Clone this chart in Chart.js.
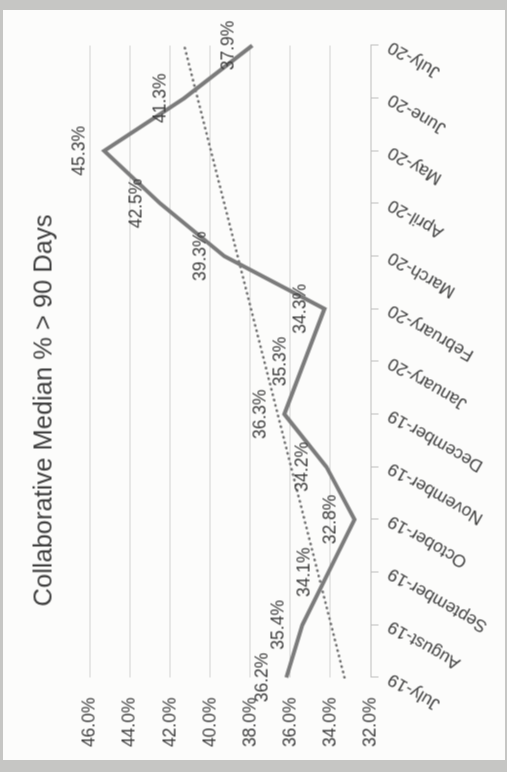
<!DOCTYPE html>
<html>
<head>
<meta charset="utf-8">
<script src="https://cdn.jsdelivr.net/npm/chart.js@4/dist/chart.umd.min.js"></script>
<style>
    html, body { margin: 0; padding: 0; width: 507px; height: 772px; overflow: hidden; background: #c6c6c4; }
    #page { position: absolute; left: 3px; top: 10px; width: 502px; height: 750px; background: #fcfcfb; }
    #turn { position: absolute; left: -128.5px; top: 146.5px; width: 765px; height: 502px; transform: rotate(-90deg); transform-origin: 50% 50%; }
</style>
</head>
<body>
<div id="page"></div>
<div id="turn"><canvas id="testchart" width="765" height="502"></canvas></div>
<script>
const months = ['July-19', 'August-19', 'September-19', 'October-19', 'November-19', 'December-19',
    'January-20', 'February-20', 'March-20', 'April-20', 'May-20', 'June-20', 'July-20'];
const median_array = [36.2, 35.4, 34.1, 32.8, 34.2, 36.3, 35.3, 34.3, 39.3, 42.5, 45.3, 41.3, 37.9];
// dotted trend line, read at its two ends
const trend_array = [33.3, null, null, null, null, null, null, null, null, null, null, null, 41.3];
const yMin = 32, yMax = 46, yStep = 2;

const fontName = "'Liberation Sans', Arial, sans-serif";

// draws the % value above every point of the first dataset
const valueLabels = {
    id: 'valueLabels',
    afterDatasetsDraw(chart) {
        const ctx = chart.ctx;
        const meta = chart.getDatasetMeta(0);
        ctx.save();
        ctx.font = '17.5px ' + fontName;
        ctx.fillStyle = '#3f3f3f';
        ctx.textAlign = 'center';
        ctx.textBaseline = 'middle';
        meta.data.forEach(function(pt, i) {
            ctx.fillText(median_array[i].toFixed(1) + '%', pt.x, pt.y - 24);
        });
        ctx.restore();
    }
};

function generateMedianChart()
{
    let select = document.getElementById('testchart');
    currentchart = new Chart(select, {
    type: 'line',
    data: {
        labels: months,
        datasets: [{
            label: 'Collaborative Median % > 90 Days',
            data: median_array,
            borderColor: '#7b7b7b',
            borderWidth: 4,
            pointRadius: 0,
            fill: false
        },
        {
            label: 'Trend',
            data: trend_array,
            borderColor: '#6f6f6f',
            borderWidth: 2.5,
            borderDash: [0.5, 5],
            borderCapStyle: 'round',
            spanGaps: true,
            pointRadius: 0,
            fill: false
        }]
    },
    options: {
        responsive: false,
        animation: false,
        events: [],
        layout: { padding: { left: 5, right: 30, top: 0, bottom: 0 } },
        plugins: {
            legend: { display: false },
            tooltip: { enabled: false },
            title: {
                display: true,
                text: 'Collaborative Median % > 90 Days',
                color: '#3f3f3f',
                font: { family: fontName, size: 25.5, weight: 'normal' },
                padding: { top: 26, bottom: 30 }
            }
        },
        scales: {
            x: {
                offset: false,
                grid: { drawOnChartArea: false, drawTicks: true, tickLength: 8, color: '#bdbdbd' },
                border: { display: true, color: '#bdbdbd' },
                ticks: {
                    autoSkip: false, minRotation: 60, maxRotation: 60, padding: 6,
                    color: '#3f3f3f', font: { family: fontName, size: 17.5 }
                },
                afterFit: function(scale) { scale.height = 135; }
            },
            y: {
                min: yMin,
                max: yMax,
                grid: { color: '#d2d2d2', drawTicks: false },
                border: { display: false },
                ticks: {
                    stepSize: yStep, padding: 20, color: '#3f3f3f',
                    font: { family: fontName, size: 17.5 },
                    callback: function(v) { return v.toFixed(1) + '%'; }
                },
                afterFit: function(scale) { scale.width = 98; }
            }
        }
    },
    plugins: [valueLabels]
    });
}

generateMedianChart();
</script>
</body>
</html>
